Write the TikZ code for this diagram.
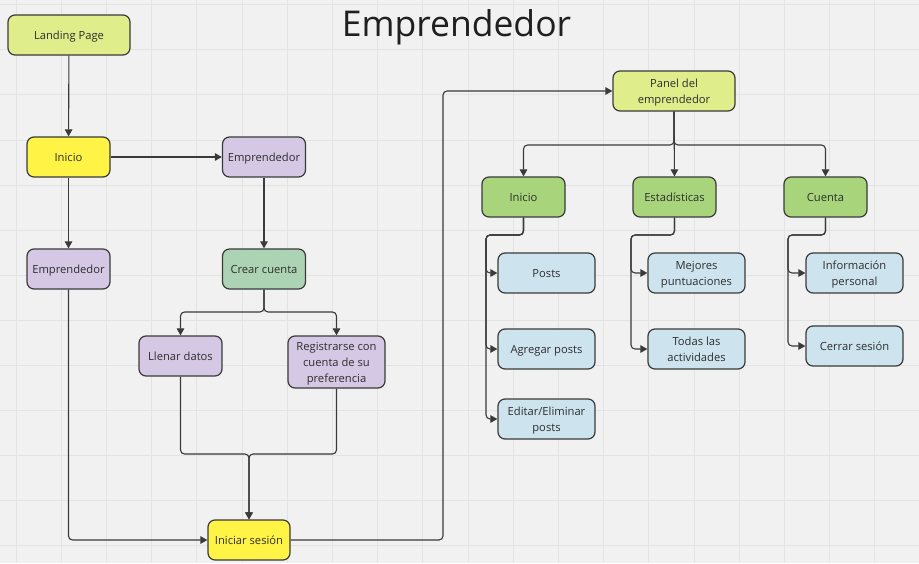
\documentclass[tikz,border=0pt]{standalone}
\usepackage{fontspec}
\setmainfont{Open Sans}
\usetikzlibrary{arrows.meta}
\definecolor{bg}{HTML}{F1F1F1}
\definecolor{gridc}{HTML}{E3E3E3}
\definecolor{linec}{HTML}{3A3A3A}
\definecolor{txt}{HTML}{2E2E2E}
\definecolor{lime}{HTML}{DFED8B}
\definecolor{yel}{HTML}{FFF445}
\definecolor{purp}{HTML}{D5C8E4}
\definecolor{mint}{HTML}{ACD4B4}
\definecolor{grn}{HTML}{A8D57B}
\definecolor{blu}{HTML}{CDE4EE}
\begin{document}
\begin{tikzpicture}[x=1pt,y=-1pt,
 box/.style={draw=linec, line width=1.2pt, rounded corners=7pt, text=txt,
   font=\fontsize{11.2}{16}\selectfont, align=center, inner sep=0pt, minimum height=40pt},
 one/.style={text height=8.2pt, text depth=0.2pt},
 two/.style={text height=24.2pt, text depth=0.2pt},
 three/.style={text height=40.2pt, text depth=0.2pt},
 conn/.style={draw=linec, line width=1.1pt, rounded corners=4pt},
 arr/.style={conn, -{Triangle[length=7pt,width=7.5pt]}},
 gridline/.style={draw=gridc, line width=1pt}
]
\useasboundingbox (0,0) rectangle (919,563);
\fill[bg] (0,0) rectangle (919,563);
\foreach \i in {0,...,20} \draw[gridline] ({16+45.2*\i},0) -- ({16+45.2*\i},563);
\foreach \j in {0,...,12} \draw[gridline] (0,{4.7+45.1*\j}) -- (919,{4.7+45.1*\j});

\node[font=\fontsize{35.5}{40}\selectfont, text=black!88, anchor=base] (title) at (456.5,36) {Emprendedor};

\node[box, one, fill=lime, minimum width=122pt] (lp) at (69,35) {Landing Page};
\node[box, one, fill=yel, minimum width=83pt] (ini) at (68.5,157) {Inicio};
\node[box, one, fill=purp, minimum width=83pt] (emp1) at (264,157) {Emprendedor};
\node[box, one, fill=purp, minimum width=83pt] (emp2) at (68.5,269) {Emprendedor};
\node[box, one, fill=mint, minimum width=83pt] (cc) at (264,269) {Crear cuenta};
\node[box, one, fill=purp, minimum width=83pt] (ll) at (180.5,356) {Llenar datos};
\node[box, three, fill=purp, minimum width=97pt, minimum height=52pt] (reg) at (336.5,362) {Registrarse con\\cuenta de su\\preferencia};
\node[box, one, fill=yel, minimum width=82pt] (is) at (249,540) {Iniciar sesión};
\node[box, two, fill=lime, minimum width=122pt] (pan) at (674,91) {Panel del\\emprendedor};
\node[box, one, fill=grn, minimum width=83pt] (in2) at (523.5,197) {Inicio};
\node[box, one, fill=grn, minimum width=83pt] (est) at (674.5,197) {Estadísticas};
\node[box, one, fill=grn, minimum width=83pt] (cue) at (825.5,197) {Cuenta};
\node[box, one, fill=blu, minimum width=97pt] (posts) at (546.5,273) {Posts};
\node[box, one, fill=blu, minimum width=97pt] (agr) at (546.5,349) {Agregar posts};
\node[box, two, fill=blu, minimum width=97pt] (edi) at (546.5,419) {Editar/Eliminar\\posts};
\node[box, two, fill=blu, minimum width=97pt] (mej) at (696.5,273) {Mejores\\puntuaciones};
\node[box, two, fill=blu, minimum width=97pt] (tod) at (696.5,349) {Todas las\\actividades};
\node[box, two, fill=blu, minimum width=97pt] (inf) at (854.5,273) {Información\\personal};
\node[box, one, fill=blu, minimum width=97pt] (cer) at (854.5,346) {Cerrar sesión};

\draw[arr] (lp) -- (ini);
\draw[arr] (ini) -- (emp1);
\draw[arr] (ini) -- (emp2);
\draw[arr] (emp1) -- (cc);
\coordinate (cj) at (264,312);
\draw[arr] (cc.south) -- (cj) -| (ll.north);
\draw[arr] (cc.south) -- (cj) -| (reg.north);
\coordinate (mj) at (249,454);
\draw[arr] (ll.south) |- (mj) -- (is.north);
\draw[arr] (reg.south) |- (mj) -- (is.north);
\draw[arr] (emp2.south) |- (is.west);
\coordinate (rx) at (443,540);
\draw[arr] (is.east) -- (rx) |- (pan.west);
\coordinate (pj) at (674,145);
\draw[arr] (pan.south) -- (pj) -| (in2.north);
\draw[arr] (pan.south) -- (est.north);
\draw[arr] (pan.south) -- (pj) -| (cue.north);
\coordinate (a1) at (486,235);
\coordinate (a2) at (631,235);
\coordinate (a3) at (788,235);
\draw[arr] (in2.south) |- (a1) |- (posts.west);
\draw[arr] (in2.south) |- (a1) |- (agr.west);
\draw[arr] (in2.south) |- (a1) |- (edi.west);
\draw[arr] (est.south) |- (a2) |- (mej.west);
\draw[arr] (est.south) |- (a2) |- (tod.west);
\draw[arr] (cue.south) |- (a3) |- (inf.west);
\draw[arr] (cue.south) |- (a3) |- (cer.west);
\end{tikzpicture}
\end{document}
